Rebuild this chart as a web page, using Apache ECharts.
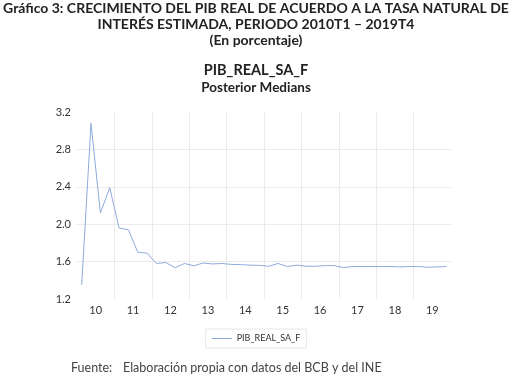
<!DOCTYPE html>
<html>
<head>
<meta charset="utf-8">
<script src="https://cdn.jsdelivr.net/npm/echarts@6/dist/echarts.min.js"></script>
<style>
  html, body { margin: 0; padding: 0; background: #fff; }
  #chart { width: 512px; height: 376px; }
</style>
</head>
<body>
<div id="chart"></div>
<script>
// year labels shown under the axis
const years = ['10', '11', '12', '13', '14', '15', '16', '17', '18', '19'];

// quarterly categories 2010T1 .. 2019T4
const quarters = [
  '2010T1', '2010T2', '2010T3', '2010T4', '2011T1', '2011T2', '2011T3', '2011T4',
  '2012T1', '2012T2', '2012T3', '2012T4', '2013T1', '2013T2', '2013T3', '2013T4',
  '2014T1', '2014T2', '2014T3', '2014T4', '2015T1', '2015T2', '2015T3', '2015T4',
  '2016T1', '2016T2', '2016T3', '2016T4', '2017T1', '2017T2', '2017T3', '2017T4',
  '2018T1', '2018T2', '2018T3', '2018T4', '2019T1', '2019T2', '2019T3', '2019T4'
];

// posterior medians
const pibRealSaF = [
  1.35, 3.08, 2.12, 2.39, 1.96, 1.94, 1.70, 1.69,
  1.58, 1.59, 1.535, 1.58, 1.555, 1.585, 1.575, 1.58,
  1.57, 1.568, 1.562, 1.56, 1.55, 1.58, 1.547, 1.562,
  1.55, 1.55, 1.557, 1.557, 1.536, 1.547, 1.547, 1.547,
  1.547, 1.547, 1.543, 1.547, 1.547, 1.54, 1.543, 1.547
];

const yTicks = { min: 1.2, max: 3.2, step: 0.4 };

const headLines = [
  'Gráfico 3: CRECIMIENTO DEL PIB REAL DE ACUERDO A LA TASA NATURAL DE',
  'INTERÉS ESTIMADA, PERIODO 2010T1 – 2019T4',
  '(En porcentaje)'
];

const chart = echarts.init(document.getElementById('chart'));
const txt = '#333333';
const font = 'Lato, "Open Sans", sans-serif';
const headStyle = { fontSize: 14, fontWeight: 'bold', color: '#222', fontFamily: font };

chart.setOption({
  animation: false,
  textStyle: { fontFamily: font },
  title: [
    ...headLines.map((t, i) => ({ text: t, left: 'center', top: 1 + i * 16.3, padding: 0, textStyle: headStyle })),
    {
      text: 'PIB_REAL_SA_F',
      subtext: 'Posterior Medians',
      left: 'center', top: 63, padding: 0,
      itemGap: 3,
      textStyle: { fontSize: 14.5, fontWeight: 'bold', color: '#222', fontFamily: font },
      subtextStyle: { fontSize: 13.5, fontWeight: 'bold', color: '#222', fontFamily: font }
    },
    {
      text: 'Fuente:',
      left: 71, top: 361, padding: 0,
      textStyle: { fontSize: 12.5, fontWeight: 'normal', color: '#444', fontFamily: font }
    },
    {
      text: 'Elaboración propia con datos del BCB y del INE',
      left: 123, top: 361, padding: 0,
      textStyle: { fontSize: 12.5, fontWeight: 'normal', color: '#444', fontFamily: font }
    }
  ],
  legend: {
    data: ['PIB_REAL_SA_F'],
    left: 'center', top: 329,
    borderColor: '#e6e6e6', borderWidth: 1,
    padding: [5, 6, 5, 6],
    itemWidth: 20, itemHeight: 8,
    icon: 'path://M0,4L20,4L20,5L0,5Z',
    textStyle: { fontSize: 9, color: txt }
  },
  grid: { left: 77, right: 61, top: 112, bottom: 77 },
  xAxis: [
    {
      type: 'category',
      data: years,
      boundaryGap: true,
      axisLine: { show: false },
      axisTick: { show: false },
      axisLabel: { color: txt, fontSize: 11, margin: 6 },
      splitLine: { show: true, showMinLine: false, showMaxLine: false, lineStyle: { color: '#ebebeb', width: 1 } }
    },
    {
      type: 'category',
      data: quarters,
      boundaryGap: true,
      show: false
    }
  ],
  yAxis: {
    type: 'value',
    min: yTicks.min, max: yTicks.max, interval: yTicks.step,
    axisLine: { show: false },
    axisTick: { show: false },
    axisLabel: { color: txt, fontSize: 11, margin: 6, formatter: v => v.toFixed(1) },
    splitLine: { show: true, showMinLine: false, showMaxLine: false, lineStyle: { color: '#ebebeb', width: 1 } }
  },
  series: [{
    name: 'PIB_REAL_SA_F',
    type: 'line',
    xAxisIndex: 1,
    data: pibRealSaF,
    symbol: 'none',
    lineStyle: { color: '#8eaadb', width: 1 },
    itemStyle: { color: '#8eaadb' }
  }]
});
</script>
</body>
</html>
